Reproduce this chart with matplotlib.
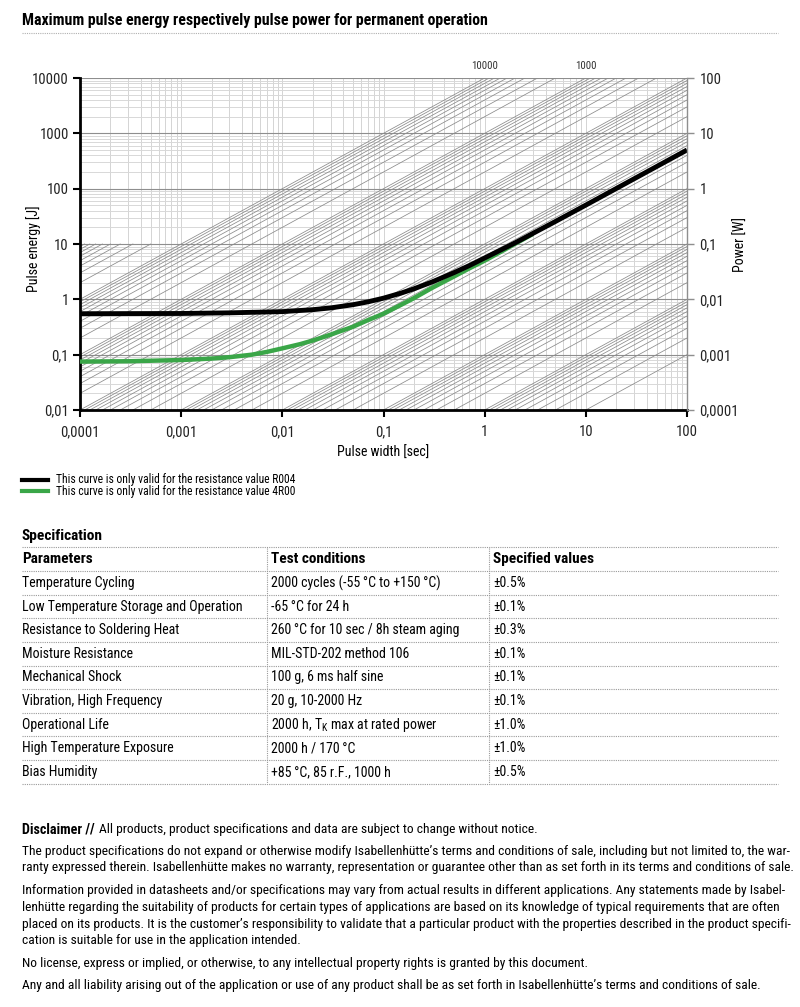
import matplotlib
matplotlib.use("Agg")
import matplotlib.pyplot as plt
from matplotlib import font_manager
from matplotlib.lines import Line2D
from matplotlib.ticker import FixedLocator, NullFormatter, NullLocator

installed = {f.name for f in font_manager.fontManager.ttflist}
wanted = ['Roboto Condensed', 'IBM Plex Sans Condensed', 'Archivo Narrow',
          'Fira Sans Condensed', 'Liberation Sans']
chosen = [f for f in wanted if f in installed][:1]
plt.rcParams['font.family'] = chosen + ['DejaVu Sans']
plt.rcParams['mathtext.fontset'] = 'custom'
plt.rcParams['mathtext.rm'] = chosen[0] if chosen else 'DejaVu Sans'

W, H = 800, 1007

# pulse energy curves
t_r004 = [1e-4, 1e-3, 3e-3, 0.01, 0.02, 0.03, 0.05, 0.07, 0.1, 0.15, 0.2, 0.3, 0.5, 0.7,
          1, 2, 5, 10, 100]
e_r004 = [0.55, 0.555, 0.57, 0.6, 0.65, 0.7, 0.8, 0.9, 1.05, 1.3, 1.55, 2.05, 3.05, 4.05,
          5.6, 10.5, 25.5, 50.5, 500]
t_4r00 = [1e-4, 3e-4, 1e-3, 2e-3, 3e-3, 5e-3, 7e-3, 0.01, 0.015, 0.02, 0.03, 0.05, 0.07,
          0.1, 0.15, 0.2, 0.3, 0.5, 0.7, 1, 1.5, 2, 3]
e_4r00 = [0.075, 0.076, 0.08, 0.085, 0.09, 0.1, 0.112, 0.13, 0.155, 0.18, 0.23, 0.32, 0.42,
          0.55, 0.8, 1.05, 1.6, 2.6, 3.6, 5.0, 7.5, 10.1, 15.2]

x_ticks = [1e-4, 1e-3, 1e-2, 0.1, 1, 10, 100]
x_labels = ["0,0001", "0,001", "0,01", "0,1", "1", "10", "100"]
e_ticks = [0.01, 0.1, 1, 10, 100, 1000, 10000]
e_labels = ["0,01", "0,1", "1", "10", "100", "1000", "10000"]
p_ticks = [1e-4, 1e-3, 0.01, 0.1, 1, 10, 100]
p_labels = ["0,0001", "0,001", "0,01", "0,1", "1", "10", "100"]

# constant power lines (W) in the background
power_full = [m * 10.0 ** k for k in range(-3, 4) for m in range(1, 10)] + [1e4]
power_short = [m * 1e4 for m in range(2, 10)]  # only drawn below 10 J
power_marks = [10000, 1000]

legend_labels = ["This curve is only valid for the resistance value R004",
                 "This curve is only valid for the resistance value 4R00"]

spec_header = ["Parameters", "Test conditions", "Specified values"]
spec_params = ["Temperature Cycling", "Low Temperature Storage and Operation",
               "Resistance to Soldering Heat", "Moisture Resistance", "Mechanical Shock",
               "Vibration, High Frequency", "Operational Life", "High Temperature Exposure",
               "Bias Humidity"]
spec_conditions = ["2000 cycles (-55\u2009°C to +150\u2009°C)", "-65\u2009°C for 24 h",
                   "260\u2009°C for 10 sec / 8h steam aging", "MIL-STD-202 method 106",
                   "100 g, 6 ms half sine", "20 g, 10-2000 Hz",
                   "2000 h, T$_\\mathregular{K}$ max at rated power", "2000 h / 170\u2009°C",
                   "+85\u2009°C, 85 r.F., 1000 h"]
spec_values = ["±0.5%", "±0.1%", "±0.3%", "±0.1%", "±0.1%", "±0.1%", "±1.0%", "±1.0%", "±0.5%"]

disclaimer = [
    "The product specifications do not expand or otherwise modify Isabellenhütte’s terms and conditions of sale, including but not limited to, the war-",
    "ranty expressed therein. Isabellenhütte makes no warranty, representation or guarantee other than as set forth in its terms and conditions of sale.",
    None,
    "Information provided in datasheets and/or specifications may vary from actual results in different applications. Any statements made by Isabel-",
    "lenhütte regarding the suitability of products for certain types of applications are based on its knowledge of typical requirements that are often",
    "placed on its products. It is the customer’s responsibility to validate that a particular product with the properties described in the product specifi-",
    "cation is suitable for use in the application intended.",
    None,
    "No license, express or implied, or otherwise, to any intellectual property rights is granted by this document.",
    None,
    "Any and all liability arising out of the application or use of any product shall be as set forth in Isabellenhütte’s terms and conditions of sale.",
]


def fx(x):
    return x / W


def fy(y):
    return 1 - y / H


def hline(fig, x0, x1, y, color="#9a9a9a", lw=0.8):
    fig.add_artist(Line2D([fx(x0), fx(x1)], [fy(y), fy(y)], transform=fig.transFigure,
                          color=color, lw=lw, ls=(0, (1, 1))))


def vline(fig, x, y0, y1, color="#9a9a9a", lw=0.8):
    fig.add_artist(Line2D([fx(x), fx(x)], [fy(y0), fy(y1)], transform=fig.transFigure,
                          color=color, lw=lw, ls=(0, (1, 1))))


fig = plt.figure(figsize=(W / 100, H / 100), dpi=100)
fig.patch.set_facecolor("white")

ax_l, ax_r, ax_t, ax_b = 80, 687, 78, 410
ax = fig.add_axes([fx(ax_l), fy(ax_b), (ax_r - ax_l) / W, (ax_b - ax_t) / H])
ax.set_xscale("log")
ax.set_yscale("log")
ax.set_xlim(1e-4, 100)
ax.set_ylim(0.01, 10000)

# grid
ax.xaxis.set_major_locator(FixedLocator(x_ticks))
ax.yaxis.set_major_locator(FixedLocator(e_ticks))
minor_x = [m * 10.0 ** k for k in range(-4, 2) for m in range(2, 10)]
minor_y = [m * 10.0 ** k for k in range(-2, 4) for m in range(2, 10)]
for v in minor_x + x_ticks:
    ax.axvline(v, color="#d4d4d4", lw=0.7, zorder=1)
for v in minor_y:
    ax.axhline(v, color="#d8d8d8", lw=0.7, zorder=1)
for v in e_ticks:
    ax.axhline(v, color="#8e8e8e", lw=0.8, zorder=1)

for p in power_full:
    ax.plot([1e-4, 100], [p * 1e-4, p * 100], color="#8a8a8a", lw=0.55, zorder=2)
for p in power_short:
    ax.plot([1e-4, 10 / p], [p * 1e-4, 10], color="#8a8a8a", lw=0.55, zorder=2)

l2, = ax.plot(t_4r00, e_4r00, color="#3aa648", lw=3.2, zorder=4, solid_capstyle="butt")
l1, = ax.plot(t_r004, e_r004, color="black", lw=3.5, zorder=5, solid_capstyle="butt")

ax.set_xticklabels(x_labels)
ax.set_yticklabels(e_labels)
ax.xaxis.set_minor_formatter(NullFormatter())
ax.yaxis.set_minor_formatter(NullFormatter())
ax.xaxis.set_minor_locator(NullLocator())
ax.yaxis.set_minor_locator(NullLocator())
ax.tick_params(axis="both", which="major", length=5, width=1.5, labelsize=10.5, color="black",
               labelcolor="#222222")
ax.tick_params(axis="x", pad=6)
ax.tick_params(axis="y", pad=3)
for s in ["top", "right"]:
    ax.spines[s].set_visible(False)
ax.spines["left"].set_linewidth(2)
ax.spines["bottom"].set_linewidth(2)

ax2 = ax.twinx()
ax2.set_yscale("log")
ax2.set_ylim(1e-4, 100)
ax2.yaxis.set_major_locator(FixedLocator(p_ticks))
ax2.yaxis.set_minor_locator(NullLocator())
ax2.set_yticklabels(p_labels)
ax2.tick_params(axis="y", length=5, width=1, color="#8e8e8e", labelsize=10.5, pad=4,
                labelcolor="#222222")
for s in ["top", "left", "bottom"]:
    ax2.spines[s].set_visible(False)
ax2.spines["right"].set_color("#8e8e8e")
ax2.spines["right"].set_linewidth(1)

for p in power_marks:
    ax.text(10000 / p, 10000 * 1.65, str(p), ha="center", va="center", fontsize=7.8,
            color="#333333", clip_on=False)

fig.text(fx(34), fy(249), "Pulse energy [J]", rotation=90, ha="center", va="center", fontsize=10)
fig.text(fx(741), fy(245), "Power [W]", rotation=90, ha="center", va="center", fontsize=10)
fig.text(fx(383), fy(453), "Pulse width [sec]", ha="center", va="center", fontsize=10)

# title
fig.text(fx(22), fy(20), "Maximum pulse energy respectively pulse power for permanent operation",
         ha="left", va="center", fontsize=11.4, fontweight="bold")
hline(fig, 22, 778, 33, color="#b0b0b0")

# legend
for (lbl, ln), yy in zip(zip(legend_labels, [l1, l2]), [480, 491]):
    fig.add_artist(Line2D([fx(22), fx(48)], [fy(yy), fy(yy)], transform=fig.transFigure,
                          color=ln.get_color(), lw=3))
    fig.text(fx(56), fy(yy), lbl, ha="left", va="center", fontsize=8.4)

# specification table
fig.text(fx(22), fy(536), "Specification", ha="left", va="center", fontsize=11.1, fontweight="bold")
hline(fig, 22, 778, 547)
col_x = [22, 271, 493]
for cx, txt in zip(col_x, spec_header):
    fig.text(fx(cx), fy(559), txt, ha="left", va="center", fontsize=11, fontweight="bold")
hline(fig, 22, 778, 571)
row_y0, row_h = 583, 23.6
for i, (a, b, c) in enumerate(zip(spec_params, spec_conditions, spec_values)):
    yy = row_y0 + i * row_h
    fig.text(fx(col_x[0]), fy(yy), a, ha="left", va="center", fontsize=10)
    fig.text(fx(col_x[1]), fy(yy), b, ha="left", va="center", fontsize=10)
    fig.text(fx(col_x[2]), fy(yy), c, ha="left", va="center", fontsize=10)
    hline(fig, 22, 778, yy + 11.8)
vline(fig, 267, 548, 583 + 8 * row_h + 11.8)
vline(fig, 489, 548, 583 + 8 * row_h + 11.8)

# disclaimer
fig.text(fx(22), fy(830), "Disclaimer //", ha="left", va="center", fontsize=10.2, fontweight="bold")
fig.text(fx(99), fy(830), "All products, product specifications and data are subject to change without notice.",
         ha="left", va="center", fontsize=9.7)
yy = 851
for line in disclaimer:
    if line is None:
        yy += 5.5
        continue
    fig.text(fx(22), fy(yy), line, ha="left", va="center", fontsize=9.7)
    yy += 16.9

fig.savefig("out.png", dpi=100, facecolor="white")
